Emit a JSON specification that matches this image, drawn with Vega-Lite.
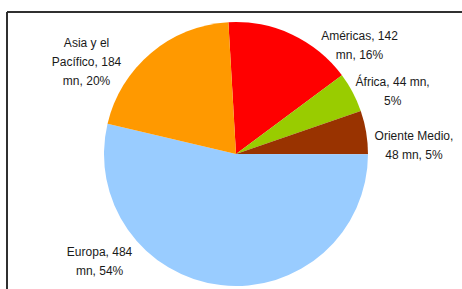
{
  "$schema": "https://vega.github.io/schema/vega-lite/v6.json",
  "width": 458,
  "height": 284,
  "autosize": "none",
  "padding": {"left": 7, "top": 12, "right": 0, "bottom": 0},
  "background": "white",
  "data": {"values": [
    {"region": "Américas", "value": 142, "label": "Américas, 142\nmn, 16%"},
    {"region": "África", "value": 44, "label": "África, 44 mn,\n5%"},
    {"region": "Oriente Medio", "value": 48, "label": "Oriente Medio,\n48 mn, 5%"},
    {"region": "Europa", "value": 484, "label": "Europa, 484\nmn, 54%"},
    {"region": "Asia y el Pacífico", "value": 184, "label": "Asia y el\nPacífico, 184\nmn, 20%"}
  ]},
  "transform": [{"window": [{"op": "row_number", "as": "idx"}]}],
  "layer": [
    {
      "mark": {"type": "rect", "fill": null, "fillOpacity": 0, "stroke": "#2b2b2b", "strokeWidth": 1},
      "encoding": {}
    },
    {
      "mark": {"type": "arc", "outerRadius": 132},
      "encoding": {
        "theta": {"field": "value", "type": "quantitative", "stack": true, "scale": {"range": [-0.0576, 6.2256]}},
        "order": {"field": "idx", "type": "quantitative"},
        "color": {"field": "region", "type": "nominal", "legend": null,
          "scale": {"domain": ["Américas", "África", "Oriente Medio", "Europa", "Asia y el Pacífico"],
                    "range": ["#FF0000", "#99CC00", "#993300", "#99CCFF", "#FF9900"]}}
      }
    },
    {
      "mark": {"type": "text", "radius": 150, "dx": 60, "dy": 18, "lineBreak": "\n", "fontSize": 12, "font": "Liberation Sans", "lineHeight": 19, "align": "center", "baseline": "middle"},
      "encoding": {"theta": {"field": "value", "type": "quantitative", "stack": true}, "order": {"field": "idx", "type": "quantitative"}, "detail": {"field": "region"}, "color": {"value": "#1a1a1a"},
        "text": {"condition": {"test": "datum.region === 'Américas'", "field": "label"}, "value": ""}}
    },
    {
      "mark": {"type": "text", "radius": 150, "dx": 24, "dy": -2, "lineBreak": "\n", "fontSize": 12, "font": "Liberation Sans", "lineHeight": 19, "align": "center", "baseline": "middle"},
      "encoding": {"theta": {"field": "value", "type": "quantitative", "stack": true}, "order": {"field": "idx", "type": "quantitative"}, "detail": {"field": "region"}, "color": {"value": "#1a1a1a"},
        "text": {"condition": {"test": "datum.region === 'África'", "field": "label"}, "value": ""}}
    },
    {
      "mark": {"type": "text", "radius": 150, "dx": 30, "dy": 7, "lineBreak": "\n", "fontSize": 12, "font": "Liberation Sans", "lineHeight": 19, "align": "center", "baseline": "middle"},
      "encoding": {"theta": {"field": "value", "type": "quantitative", "stack": true}, "order": {"field": "idx", "type": "quantitative"}, "detail": {"field": "region"}, "color": {"value": "#1a1a1a"},
        "text": {"condition": {"test": "datum.region === 'Oriente Medio'", "field": "label"}, "value": ""}}
    },
    {
      "mark": {"type": "text", "radius": 150, "dx": -119, "dy": -51, "lineBreak": "\n", "fontSize": 12, "font": "Liberation Sans", "lineHeight": 19, "align": "center", "baseline": "middle"},
      "encoding": {"theta": {"field": "value", "type": "quantitative", "stack": true}, "order": {"field": "idx", "type": "quantitative"}, "detail": {"field": "region"}, "color": {"value": "#1a1a1a"},
        "text": {"condition": {"test": "datum.region === 'Europa'", "field": "label"}, "value": ""}}
    },
    {
      "mark": {"type": "text", "radius": 150, "dx": -53, "dy": 4, "lineBreak": "\n", "fontSize": 12, "font": "Liberation Sans", "lineHeight": 19, "align": "center", "baseline": "middle"},
      "encoding": {"theta": {"field": "value", "type": "quantitative", "stack": true}, "order": {"field": "idx", "type": "quantitative"}, "detail": {"field": "region"}, "color": {"value": "#1a1a1a"},
        "text": {"condition": {"test": "datum.region === 'Asia y el Pacífico'", "field": "label"}, "value": ""}}
    }
  ]
}
